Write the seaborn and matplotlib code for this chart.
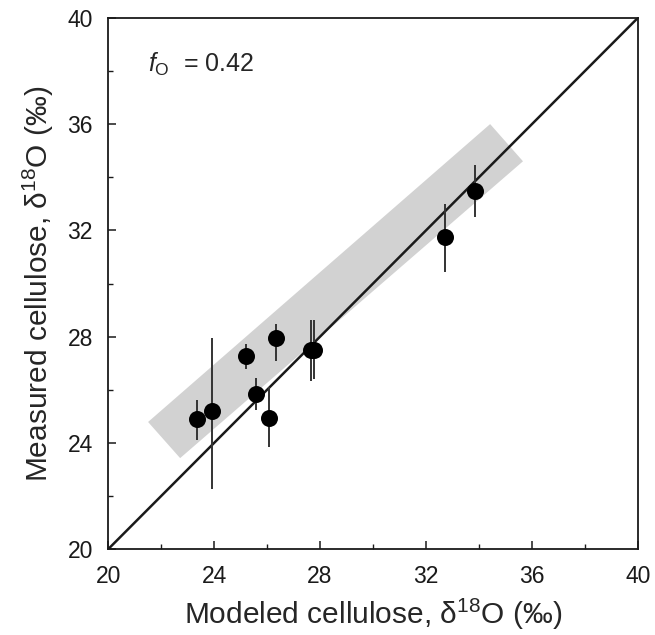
import numpy as np
import pandas as pd
import matplotlib
matplotlib.use('Agg')
import matplotlib.pyplot as plt
import seaborn as sns
from matplotlib.patches import Polygon
from matplotlib.ticker import MultipleLocator

# modeled vs measured cellulose d18O
modeled = [23.36, 23.92, 25.21, 25.58, 26.08, 26.34, 27.66, 27.77, 32.72, 33.85]
measured = [24.91, 25.21, 27.28, 25.85, 24.94, 27.96, 27.51, 27.51, 31.74, 33.47]
err_low = [24.11, 22.26, 26.79, 25.25, 23.85, 27.09, 26.34, 26.40, 30.42, 32.49]
err_high = [25.62, 27.96, 27.74, 26.45, 26.11, 28.49, 28.64, 28.64, 32.98, 34.45]

# corners of the shaded band (left, bottom, right, top)
band_x = [21.51, 22.72, 35.66, 34.42]
band_y = [24.79, 23.43, 34.60, 36.00]

one_to_one = [20, 40]
f_o = 0.42

sns.set_style('white')
plt.rcParams['font.family'] = ['Liberation Sans', 'DejaVu Sans']
plt.rcParams['mathtext.fontset'] = 'custom'
plt.rcParams['mathtext.rm'] = 'Liberation Sans'
plt.rcParams['mathtext.it'] = 'Liberation Sans:italic'

df = pd.DataFrame({'modeled': modeled, 'measured': measured})

fig = plt.figure(figsize=(6.55, 6.35), dpi=100)
ax = fig.add_axes([0.165, 0.135, 0.809, 0.837])

# shaded band
ax.add_patch(Polygon(np.column_stack([band_x, band_y]), closed=True,
                     facecolor='#d2d2d2', edgecolor='none', zorder=1))

# 1:1 line
ax.plot(one_to_one, one_to_one, color='#1a1a1a', lw=1.8, zorder=2)

# error bars
ax.vlines(modeled, err_low, err_high, color='#333333', lw=1.4, zorder=3)

sns.scatterplot(data=df, x='modeled', y='measured', ax=ax, s=150,
                color='black', edgecolor='black', linewidth=0, zorder=4)

ax.set_xlim(20, 40)
ax.set_ylim(20, 40)
ax.xaxis.set_major_locator(MultipleLocator(4))
ax.xaxis.set_minor_locator(MultipleLocator(2))
ax.yaxis.set_major_locator(MultipleLocator(4))
ax.yaxis.set_minor_locator(MultipleLocator(2))
ax.tick_params(which='both', direction='in', bottom=True, left=True,
               top=False, right=False, colors='#1a1a1a', labelsize=16.5)
ax.tick_params(which='major', length=6, width=1.1, pad=11)
ax.tick_params(which='minor', length=3.5, width=1.0)

for sp in ax.spines.values():
    sp.set_color('#1a1a1a')
    sp.set_linewidth(1.3)

ax.set_xlabel('Modeled cellulose, δ$^{\\mathregular{18}}$O (‰)', fontsize=21.5, labelpad=7)
ax.set_ylabel('Measured cellulose, δ$^{\\mathregular{18}}$O (‰)', fontsize=21.5, labelpad=8)

ax.text(21.5, 38.25, '$f_{\\mathrm{O}}$  = %.2f' % f_o, fontsize=18, va='center', ha='left')

fig.savefig('out.png', dpi=100)
plt.close(fig)
